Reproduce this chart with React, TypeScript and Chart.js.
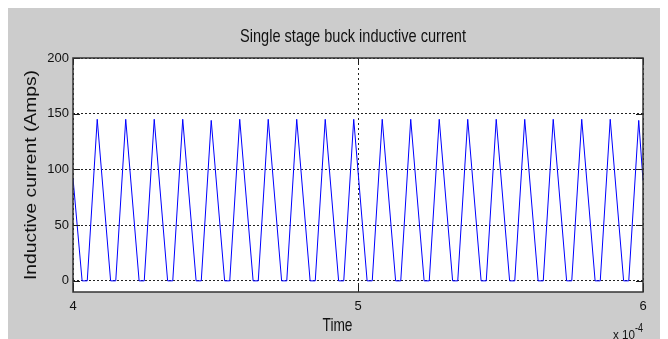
import React, { useEffect, useRef } from "react";
import { Chart, registerables } from "chart.js";

Chart.register(...registerables);

// Time in units of 1e-4 s (axis shows "x 10^-4")
const timeE4 = [
  4.000, 4.032, 4.050,
  4.085, 4.132, 4.150,
  4.185, 4.232, 4.250,
  4.285, 4.332, 4.350,
  4.385, 4.432, 4.450,
  4.485, 4.532, 4.550,
  4.585, 4.632, 4.650,
  4.685, 4.732, 4.750,
  4.785, 4.832, 4.850,
  4.885, 4.932, 4.950,
  4.985, 5.032, 5.050,
  5.085, 5.132, 5.150,
  5.185, 5.232, 5.250,
  5.285, 5.332, 5.350,
  5.385, 5.432, 5.450,
  5.485, 5.532, 5.550,
  5.585, 5.632, 5.650,
  5.685, 5.732, 5.750,
  5.785, 5.832, 5.850,
  5.885, 5.932, 5.950,
  5.985, 6.000,
];

// Inductor current (A)
const currentAmps = [
  92, 0, 0,
  145, 0, 0,
  145, 0, 0,
  145, 0, 0,
  145, 0, 0,
  144, 0, 0,
  145, 0, 0,
  145, 0, 0,
  145, 0, 0,
  145, 0, 0,
  145, 0, 0,
  145, 0, 0,
  145, 0, 0,
  145, 0, 0,
  145, 0, 0,
  145, 0, 0,
  145, 0, 0,
  145, 0, 0,
  145, 0, 0,
  145, 0, 0,
  144, 90,
];

const yTicks = [0, 50, 100, 150, 200];
const xTicks = [4, 5, 6];
const yMin = -10;
const yMax = 200;
const xMin = 4;
const xMax = 6;

const titleText = "Single stage buck inductive current";
const xLabelText = "Time";
const yLabelText = "Inductive current (Amps)";
const xExpBase = "x 10";
const xExpPower = "-4";

function drawFitted(
  ctx: CanvasRenderingContext2D,
  text: string,
  x: number,
  y: number,
  font: string,
  width: number,
  align: CanvasTextAlign
) {
  ctx.save();
  ctx.font = font;
  const w = ctx.measureText(text).width;
  ctx.translate(x, y);
  ctx.scale(width / w, 1);
  ctx.textAlign = align;
  ctx.textBaseline = "alphabetic";
  ctx.fillText(text, 0, 0);
  ctx.restore();
}

export default function App() {
  const ref = useRef<HTMLCanvasElement | null>(null);

  useEffect(() => {
    const canvas = ref.current;
    if (!canvas) return;

    const deco = {
      id: "matlabDeco",
      beforeDraw(chart: any) {
        const { ctx, chartArea: a, width, height } = chart;
        ctx.save();
        ctx.fillStyle = "#cccccc";
        ctx.fillRect(0, 0, width, height);
        ctx.fillStyle = "#ffffff";
        ctx.fillRect(a.left, a.top, a.right - a.left, a.bottom - a.top);
        ctx.restore();
      },
      afterDraw(chart: any) {
        const { ctx, chartArea: a, scales } = chart;
        const xs = scales.x;
        const ys = scales.y;
        ctx.save();
        // inward tick marks on all four sides
        const L = 7;
        ctx.strokeStyle = "#1a1a1a";
        ctx.lineWidth = 1;
        ctx.setLineDash([]);
        ctx.beginPath();
        for (const v of yTicks) {
          const y = Math.round(ys.getPixelForValue(v)) + 0.5;
          ctx.moveTo(a.left, y);
          ctx.lineTo(a.left + L, y);
          ctx.moveTo(a.right, y);
          ctx.lineTo(a.right - L, y);
        }
        for (const v of xTicks) {
          const x = Math.round(xs.getPixelForValue(v)) + 0.5;
          ctx.moveTo(x, a.top);
          ctx.lineTo(x, a.top + L);
          ctx.moveTo(x, a.bottom);
          ctx.lineTo(x, a.bottom - L);
        }
        ctx.stroke();
        // axes box
        ctx.strokeStyle = "#333333";
        ctx.lineWidth = 1.5;
        ctx.strokeRect(a.left, a.top, a.right - a.left, a.bottom - a.top);

        ctx.fillStyle = "#111111";
        // title
        drawFitted(ctx, titleText, 345, 34, "19px 'Liberation Sans', Arial, sans-serif", 226, "center");
        // x label
        drawFitted(ctx, xLabelText, 329.5, 322.5, "19px 'Liberation Sans', Arial, sans-serif", 30, "center");
        // exponent
        drawFitted(ctx, xExpBase, 605, 330.5, "13px 'Liberation Sans', Arial, sans-serif", 22, "left");
        drawFitted(ctx, xExpPower, 627, 323.5, "12px 'Liberation Sans', Arial, sans-serif", 8, "left");
        // y label (rotated)
        ctx.save();
        ctx.translate(23, (a.top + a.bottom) / 2);
        ctx.rotate(-Math.PI / 2);
        ctx.font = "17px 'Liberation Sans', Arial, sans-serif";
        const w = ctx.measureText(yLabelText).width;
        ctx.scale(210 / w, 1);
        ctx.textAlign = "center";
        ctx.textBaseline = "middle";
        ctx.fillText(yLabelText, 0, 0);
        ctx.restore();
        ctx.restore();
      },
    };

    const points = timeE4.map((t, i) => ({ x: t, y: currentAmps[i] }));

    const chart = new Chart(canvas, {
      type: "line",
      data: {
        datasets: [
          {
            data: points,
            borderColor: "#0000ff",
            borderWidth: 1,
            pointRadius: 0,
            tension: 0,
            fill: false,
          },
        ],
      },
      options: {
        responsive: false,
        animation: false,
        events: [],
        layout: { padding: { top: 50, right: 25, left: 0, bottom: 0 } },
        plugins: {
          legend: { display: false },
          title: { display: false },
          tooltip: { enabled: false },
        },
        scales: {
          x: {
            type: "linear",
            min: xMin,
            max: xMax,
            afterBuildTicks: (s: any) => {
              s.ticks = xTicks.map((v) => ({ value: v }));
            },
            afterFit: (s: any) => {
              s.height = 47;
            },
            grid: {
              color: "#222222",
              lineWidth: 1,
              drawTicks: false,
            },
            border: { display: false, dash: [2, 3] },
            ticks: {
              padding: 7,
              color: "#111111",
              maxRotation: 0,
              font: { family: "'Liberation Sans', Arial, sans-serif", size: 13 },
              callback: (v: any) => String(v),
            },
          },
          y: {
            type: "linear",
            min: yMin,
            max: yMax,
            afterBuildTicks: (s: any) => {
              s.ticks = yTicks.map((v) => ({ value: v }));
            },
            afterFit: (s: any) => {
              s.width = 65;
            },
            grid: {
              color: "#222222",
              lineWidth: 1,
              drawTicks: false,
            },
            border: { display: false, dash: [2, 2] },
            ticks: {
              padding: 4,
              color: "#111111",
              font: { family: "'Liberation Sans', Arial, sans-serif", size: 13 },
              callback: (v: any) => String(v),
            },
          },
        },
      },
      plugins: [deco],
    });

    return () => chart.destroy();
  }, []);

  return (
    <canvas
      ref={ref}
      width={660}
      height={331}
      style={{ display: "block", width: 660, height: 331 }}
    />
  );
}
